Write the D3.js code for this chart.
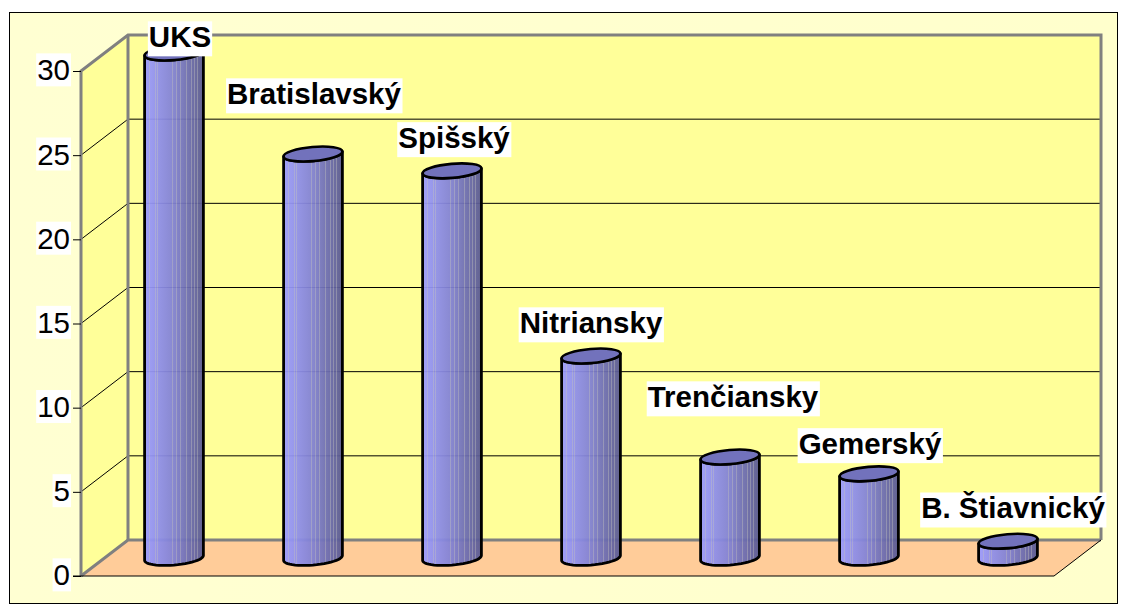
<!DOCTYPE html>
<html><head><meta charset="utf-8">
<script src="https://cdnjs.cloudflare.com/ajax/libs/d3/7.8.5/d3.min.js"></script>
<style>html,body{margin:0;padding:0;background:#fff}svg{display:block}</style></head>
<body><svg id="c" width="1131" height="614"></svg>
<script>
const categories=["UKS","Bratislavský","Spišský","Nitriansky","Trenčiansky","Gemerský","B. Štiavnický"];
const values=[30,24,23,12,6,5,1];
const ticks=[0,5,10,15,20,25,30];
const labelDx=[6,1,2,0,3,1,5];
const labelDy=[-16,-60,-33,-33,-60,-30,-33];
const stripes=[.09,.18,.22,.48,.54,.61,.71,.79,.85,.9];

const svg=d3.select("#c");
const x0=81,x1=1054,yB=576,yT=71,dx=47,dy=-36;
const y=d3.scaleLinear().domain([0,30]).range([yB,yT]);
const x=d3.scaleBand().domain(categories).range([x0,x1]).paddingInner(0).paddingOuter(0);
const defs=svg.append("defs");
const bg=defs.append("linearGradient").attr("id","bg").attr("x1",0).attr("y1",0).attr("x2",1).attr("y2",0);
bg.append("stop").attr("offset",0).attr("stop-color","#ffffd2");
bg.append("stop").attr("offset",1).attr("stop-color","#ffffcc");
const g=defs.append("linearGradient").attr("id","cyl").attr("x1",0).attr("y1",0).attr("x2",1).attr("y2",0);
const base=d3.scaleLinear().domain([0,.5,1]).range(["#9c9cff","#8080d2","#595990"]);
const addStop=(o,c)=>g.append("stop").attr("offset",o).attr("stop-color",c);
addStop(0,base(0));
stripes.forEach(s=>{
 const w=.009, c=d3.interpolateRgb(base(s),"#c0c0c0")(.4);
 addStop(s-w,base(s-w));addStop(s-w,c);addStop(s+w,c);addStop(s+w,base(s+w));
});
addStop(1,base(1));

svg.append("rect").attr("x",9.5).attr("y",12.5).attr("width",1108).attr("height",591).attr("fill","url(#bg)").attr("stroke","#000").attr("stroke-width",1);
const line=d3.line();
svg.append("path").attr("d",line([[x0,yB],[x0+dx,yB+dy],[x1+dx,yB+dy],[x1,yB]])+"Z").attr("fill","#ffcc99");
svg.append("rect").attr("x",x0+dx).attr("y",yT+dy).attr("width",x1-x0).attr("height",yB-yT).attr("fill","#ffff99");
svg.append("path").attr("d",line([[x0,yB],[x0+dx,yB+dy],[x0+dx,yT+dy],[x0,yT]])+"Z").attr("fill","#ffff99");
ticks.forEach(t=>{ if(t===0||t===30) return;
 svg.append("path").attr("d",line([[x0,y(t)],[x0+dx,y(t)+dy],[x1+dx,y(t)+dy]])).attr("fill","none").attr("stroke","#000").attr("stroke-width",1);
});
const gray=p=>svg.append("path").attr("d",line(p)).attr("fill","none").attr("stroke","#808080").attr("stroke-width",3);
gray([[x0,yB],[x0,yT],[x0+dx,yT+dy],[x1+dx,yT+dy],[x1+dx,yB+dy]]);
gray([[x0+dx,yT+dy],[x0+dx,yB+dy]]);
gray([[x0,yB],[x0+dx,yB+dy],[x1+dx,yB+dy]]);
svg.append("path").attr("d",line([[x0-8,yB],[x1,yB],[x1+dx,yB+dy]])).attr("fill","none").attr("stroke","#000").attr("stroke-width",1);
const axis=svg.append("g").attr("transform",`translate(${x0},0)`).call(d3.axisLeft(y).tickValues(ticks).tickSize(8).tickPadding(3));
axis.select(".domain").remove();
axis.selectAll("line").attr("stroke","#000");
axis.selectAll("text").attr("font-family","'Liberation Sans'").attr("font-size",29.5).attr("fill","#000").attr("dy","0.3em").each(function(){
 const b=this.getBBox();
 d3.select(this.parentNode).insert("rect","text").attr("x",b.x-1).attr("y",b.y).attr("width",b.width+2).attr("height",b.height).attr("fill","#fff");
});
const rx=29.5, ry=7, rot=-5, off=dx/2, oy=dy/2;
const th=rot*Math.PI/180;
const tt=Math.atan2(-ry*Math.sin(th),rx*Math.cos(th));
const pt=(cx,cy,t)=>[cx+rx*Math.cos(t)*Math.cos(th)-ry*Math.sin(t)*Math.sin(th),cy+rx*Math.cos(t)*Math.sin(th)+ry*Math.sin(t)*Math.cos(th)];
const arcT=d3.range(0,25).map(i=>tt+Math.PI*i/24);
const barW=x.bandwidth();
const cxOf=d=>x(d)+barW/2+off;
const cats=categories.map((c,i)=>({c,v:values[i],i}));
const gs=svg.append("g").selectAll("g.bar").data(cats).join("g").attr("class","bar");
gs.append("path").attr("d",d=>{
  const cx=cxOf(d.c), t=y(d.v)+oy, b=y(0)+oy;
  const bottom=arcT.slice().reverse().map(a=>pt(cx,b,a));
  const top=arcT.map(a=>pt(cx,t,a));
  return line(bottom.concat(top))+"Z";
 }).attr("fill","url(#cyl)").attr("fill-opacity",.94).attr("stroke","#000").attr("stroke-width",2.8).attr("stroke-linejoin","round");
gs.append("ellipse").attr("cx",d=>cxOf(d.c)).attr("cy",d=>y(d.v)+oy).attr("rx",rx).attr("ry",ry)
  .attr("transform",d=>`rotate(${rot} ${cxOf(d.c)} ${y(d.v)+oy})`).attr("fill","#7272bc").attr("stroke","#000").attr("stroke-width",2.6);
categories.forEach((c,i)=>{
 const lg=svg.append("g");
 const t=lg.append("text").attr("x",cxOf(c)+labelDx[i]).attr("y",y(values[i])+oy+labelDy[i]).attr("text-anchor","middle").attr("dy","0.35em")
  .attr("font-family","'Liberation Sans'").attr("font-weight","bold").attr("font-size",29.5).attr("fill","#000").text(c);
 const b=t.node().getBBox();
 lg.insert("rect","text").attr("x",b.x-1).attr("y",b.y+1).attr("width",b.width+2).attr("height",b.height+2).attr("fill","#fff");
});
</script></body></html>
